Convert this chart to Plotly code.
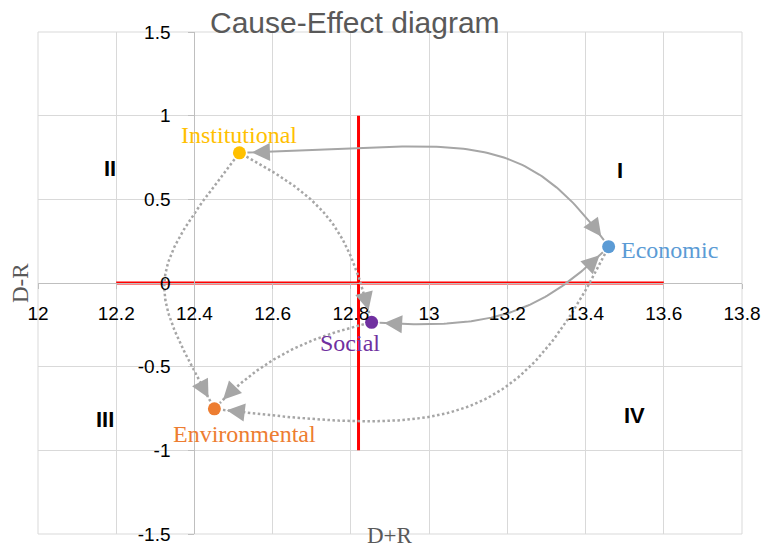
import numpy as np
import plotly.graph_objects as go

# ---------------- data ----------------
factors = ["Economic", "Social", "Environmental", "Institutional"]
d_plus_r = [13.459, 12.853, 12.451, 12.515]
d_minus_r = [0.217, -0.235, -0.752, 0.778]
factor_colors = ["#5B9BD5", "#7030A0", "#ED7D31", "#FFC000"]

x_tick_vals = [12.0, 12.2, 12.4, 12.6, 12.8, 13.0, 13.2, 13.4, 13.6, 13.8]
x_tick_text = ["12", "12.2", "12.4", "12.6", "12.8", "13", "13.2", "13.4", "13.6", "13.8"]
y_tick_vals = [-1.5, -1.0, -0.5, 0.0, 0.5, 1.0, 1.5]
y_tick_text = ["-1.5", "-1", "-0.5", "0", "0.5", "1", "1.5"]

quadrant_names = ["I", "II", "III", "IV"]
quadrant_x = [13.487, 12.185, 12.172, 13.526]
quadrant_y = [0.674, 0.686, -0.818, -0.794]

h_line_x = [12.2, 13.6]
h_line_y = [0.0, 0.0]
v_line_y = [1.0, -1.0]
threshold = float(np.mean(d_plus_r))

# relations: source, target, type (solid = two-way strong, dotted = one-way)
rel_source = ["Institutional", "Social", "Institutional", "Institutional", "Social", "Economic"]
rel_target = ["Economic", "Economic", "Social", "Environmental", "Environmental", "Environmental"]
rel_kind = ["solid", "solid", "dot", "dot", "dot", "dot"]

# ---------------- layout geometry / styles ----------------
W, H = 761, 550
ML, MR, MT, MB = 38, 19, 32, 16
PW, PH = W - ML - MR, H - MT - MB
XR = [12.0, 13.8]
YR = [-1.5, 1.5]

# curve shape styles (pixel-space tangent directions & handle lengths)
rel_style = [
    dict(d0=(1, -0.03), h0=210, d1=(0.59, 0.81), h1=145, heads="both"),
    dict(d0=(1, 0.06), h0=107, d1=(0.72, -0.69), h1=91, heads="both"),
    dict(d0=(0.88, 0.48), h0=90, d1=(0.25, 0.97), h1=90, heads="end"),
    dict(d0=(-0.61, 0.79), h0=151, d1=(0.47, 0.88), h1=133, heads="end"),
    dict(d0=(-0.97, 0.24), h0=60, d1=(-0.69, 0.72), h1=60, heads="end"),
    dict(d0=(-0.45, 0.89), h0=191, d1=(-0.99, -0.12), h1=235, heads="end"),
]

GRAY = "#A6A6A6"


def to_px(x, y):
    return np.array([ML + (x - XR[0]) / (XR[1] - XR[0]) * PW,
                     MT + (YR[1] - y) / (YR[1] - YR[0]) * PH])


def to_data(p):
    p = np.asarray(p, dtype=float)
    x = XR[0] + (p[..., 0] - ML) / PW * (XR[1] - XR[0])
    y = YR[1] - (p[..., 1] - MT) / PH * (YR[1] - YR[0])
    return x, y


def unit(v):
    v = np.array(v, dtype=float)
    return v / np.linalg.norm(v)


pos = {f: to_px(x, y) for f, x, y in zip(factors, d_plus_r, d_minus_r)}

fig = go.Figure()

# quadrant separator lines
fig.add_trace(go.Scatter(x=h_line_x, y=h_line_y, mode="lines",
                         line=dict(color="#FF0000", width=3), hoverinfo="skip", showlegend=False))
fig.add_trace(go.Scatter(x=[threshold, threshold], y=v_line_y, mode="lines",
                         line=dict(color="#FF0000", width=3), hoverinfo="skip", showlegend=False))

annotations = []
R = 8
HEAD_BACK = 4.5
TAIL = 12


def head(tip_px, u):
    base = tip_px - HEAD_BACK * u
    x, y = to_data(base)
    annotations.append(dict(x=float(x), y=float(y), xref="x", yref="y", text="",
                            showarrow=True, arrowhead=2, arrowsize=1.8, arrowwidth=2,
                            arrowcolor=GRAY, ax=float(-u[0] * TAIL), ay=float(-u[1] * TAIL),
                            standoff=0))


for s, t, k, st in zip(rel_source, rel_target, rel_kind, rel_style):
    u0 = unit(st["d0"])
    u1 = unit(st["d1"])
    P0 = pos[s] + R * u0
    P3 = pos[t] - R * u1
    P1 = P0 + st["h0"] * u0
    P2 = P3 - st["h1"] * u1
    tt = np.linspace(0, 1, 90)[:, None]
    pts = ((1 - tt) ** 3) * P0 + 3 * (1 - tt) ** 2 * tt * P1 + 3 * (1 - tt) * tt ** 2 * P2 + tt ** 3 * P3
    cx, cy = to_data(pts)
    if k == "solid":
        line = dict(color=GRAY, width=2)
    else:
        line = dict(color=GRAY, width=2.5, dash="2.5px,2.5px")
    fig.add_trace(go.Scatter(x=cx, y=cy, mode="lines", line=line,
                             hoverinfo="skip", showlegend=False))
    head(P3, u1)
    if st["heads"] == "both":
        head(P0, -u0)

# factor points
fig.add_trace(go.Scatter(x=d_plus_r, y=d_minus_r, mode="markers",
                         marker=dict(size=13, color=factor_colors),
                         text=factors, hoverinfo="text", showlegend=False))

# point labels
label_style = {
    "Institutional": dict(xanchor="center", xshift=0, yshift=18),
    "Economic": dict(xanchor="left", xshift=10, yshift=-3),
    "Social": dict(xanchor="center", xshift=-22, yshift=-21),
    "Environmental": dict(xanchor="center", xshift=30, yshift=-25),
}
for f, x, y, c in zip(factors, d_plus_r, d_minus_r, factor_colors):
    ls = label_style[f]
    annotations.append(dict(x=x, y=y, xref="x", yref="y", text=f, showarrow=False,
                            xanchor=ls["xanchor"], yanchor="middle",
                            xshift=ls["xshift"], yshift=ls["yshift"],
                            font=dict(family="Liberation Serif", size=24, color=c)))

# quadrant labels
for q, x, y in zip(quadrant_names, quadrant_x, quadrant_y):
    annotations.append(dict(x=x, y=y, xref="x", yref="y", text="<b>%s</b>" % q,
                            showarrow=False, xanchor="center", yanchor="middle",
                            font=dict(family="Liberation Sans", size=22, color="#000000")))

# title and axis titles
annotations.append(dict(x=(354.5 - ML) / PW, y=(H - MB - 22) / PH, xref="paper", yref="paper",
                        text="Cause-Effect diagram", showarrow=False,
                        xanchor="center", yanchor="middle",
                        font=dict(family="Liberation Sans", size=30, color="#595959")))
annotations.append(dict(x=(20 - ML) / PW, y=0.5, xref="paper", yref="paper",
                        text="D-R", textangle=-90, showarrow=False,
                        xanchor="center", yanchor="middle",
                        font=dict(family="Liberation Serif", size=23, color="#595959")))
annotations.append(dict(x=0.5, y=-MB / PH, xref="paper", yref="paper",
                        text="D+R", showarrow=False,
                        xanchor="center", yanchor="bottom",
                        font=dict(family="Liberation Serif", size=23, color="#595959")))

tick_font = dict(family="Liberation Sans", size=19, color="#000000")
fig.update_layout(
    width=W, height=H,
    margin=dict(l=ML, r=MR, t=MT, b=MB),
    paper_bgcolor="white", plot_bgcolor="white",
    showlegend=False,
    annotations=annotations,
    shapes=[dict(type="rect", xref="paper", yref="paper", x0=0, y0=0, x1=1, y1=1,
                 line=dict(color="#D9D9D9", width=1), layer="below")],
    xaxis=dict(range=XR, tickvals=x_tick_vals, ticktext=x_tick_text,
               showgrid=True, gridcolor="#D9D9D9", gridwidth=1, zeroline=False,
               showline=True, linecolor="#BFBFBF", linewidth=1.3,
               anchor="free", position=(0 - YR[0]) / (YR[1] - YR[0]),
               ticks="outside", ticklen=5, tickcolor="#BFBFBF",
               ticklabelstandoff=8, tickfont=tick_font, automargin=False),
    yaxis=dict(range=YR, tickvals=y_tick_vals, ticktext=y_tick_text,
               showgrid=True, gridcolor="#D9D9D9", gridwidth=1, zeroline=False,
               showline=True, linecolor="#BFBFBF", linewidth=1.3,
               anchor="free", position=(12.4 - XR[0]) / (XR[1] - XR[0]),
               ticks="outside", ticklen=6, tickcolor="#BFBFBF",
               ticklabelstandoff=14, tickfont=tick_font, automargin=False),
)

fig.write_html("out.html", config={"displayModeBar": False},
               post_script="document.body.style.margin='0';document.body.style.overflow='hidden';")
